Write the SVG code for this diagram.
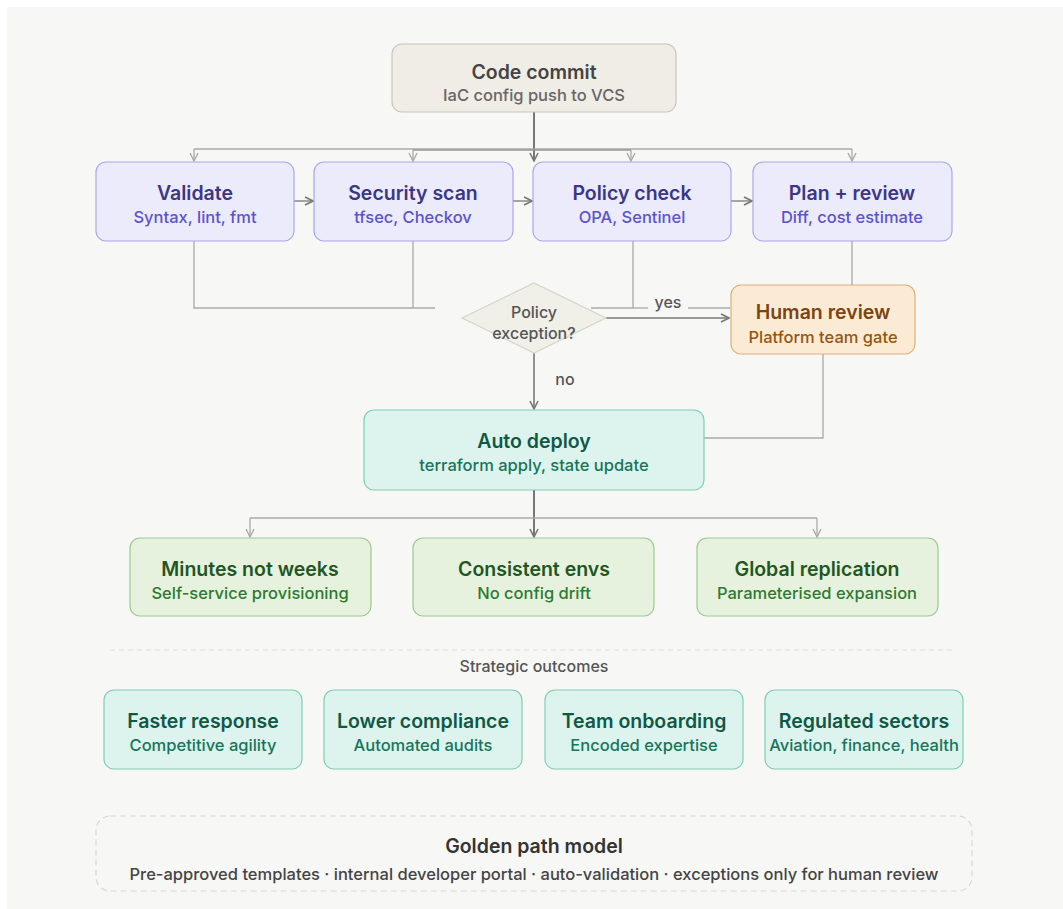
<svg xmlns="http://www.w3.org/2000/svg" width="1063" height="909" viewBox="0 0 1063 909">
<defs>
<marker id="ah" viewBox="0 0 10 10" refX="9" refY="5" markerWidth="10" markerHeight="10" markerUnits="userSpaceOnUse" orient="auto">
<path d="M1,1 L9,5 L1,9" fill="none" stroke="#777" stroke-width="1.6"/>
</marker>
<marker id="ahl" viewBox="0 0 10 10" refX="9" refY="5" markerWidth="10" markerHeight="10" markerUnits="userSpaceOnUse" orient="auto">
<path d="M1,1 L9,5 L1,9" fill="none" stroke="#aaa" stroke-width="1.4"/>
</marker>
</defs>
<style>
text{font-family:Inter,"Liberation Sans",sans-serif;text-anchor:middle}
.t{font-size:19.5px;font-weight:600}
.s{font-size:16.5px;font-weight:500}
.gray rect{fill:#f0ede6;stroke:#c9c5bb}
.gray .t{fill:#444}.gray .s{fill:#666}
.pur rect{fill:#ecebfb;stroke:#aba6ee}
.pur .t{fill:#3b3786}.pur .s{fill:#5b53cc}
.ora rect{fill:#fcebd4;stroke:#e0ae78}
.ora .t{fill:#7a4512}.ora .s{fill:#955510}
.teal rect{fill:#dcf4ed;stroke:#7fcdb5}
.teal .t{fill:#105846}.teal .s{fill:#17755b}
.grn rect{fill:#e6f2de;stroke:#9cc98d}
.grn .t{fill:#1f5622}.grn .s{fill:#2d7a2f}
rect{stroke-width:1.2}
.cl{fill:none;stroke:#aaa;stroke-width:1.3}
.cd{fill:none;stroke:#777;stroke-width:2}
.lbl{font-size:16px;fill:#555;font-weight:500}
</style>
<rect x="7" y="7" width="1056" height="902" fill="#f7f7f5"/>

<g id="connectors">
<path class="cd" d="M534,112 V161" marker-end="url(#ah)"/>
<path class="cl" d="M194,149 H852"/>
<path class="cl" d="M413,150 H631" style="stroke:#999"/>
<path class="cl" d="M194,149 V161" marker-end="url(#ahl)"/>
<path class="cl" d="M413,150 V161" marker-end="url(#ahl)"/>
<path class="cl" d="M631,150 V161" marker-end="url(#ahl)"/>
<path class="cl" d="M852,149 V161" marker-end="url(#ahl)"/>
<path class="cl" d="M294,201 H313" style="stroke:#888;stroke-width:1.5" marker-end="url(#ah)"/>
<path class="cl" d="M513,201 H532" style="stroke:#888;stroke-width:1.5" marker-end="url(#ah)"/>
<path class="cl" d="M731,201 H752" style="stroke:#888;stroke-width:1.5" marker-end="url(#ah)"/>
<path class="cl" d="M194,241 V308 H435"/>
<path class="cl" d="M413,241 V308"/>
<path class="cl" d="M633,241 V308 H591"/>
<path class="cl" d="M633,308 H648"/>
<path class="cl" d="M688,308 H730"/>
<path class="cl" d="M852,241 V285"/>
<path class="cd" d="M606,318 H729" style="stroke-width:1.6" marker-end="url(#ah)"/>
<path class="cd" d="M534,353 V409" style="stroke-width:1.6" marker-end="url(#ah)"/>
<path class="cl" d="M823,354 V438 H704"/>
<path class="cd" d="M534,490 V537" marker-end="url(#ah)"/>
<path class="cl" d="M250,518 H817"/>
<path class="cl" d="M250,518 V537" marker-end="url(#ahl)"/>
<path class="cl" d="M817,518 V537" marker-end="url(#ahl)"/>
<text class="lbl" x="668" y="308">yes</text>
<text class="lbl" x="565" y="385">no</text>
</g>

<g id="code-commit" class="gray">
<rect x="392" y="44" width="284" height="68" rx="10"/>
<text class="t" x="534" y="79">Code commit</text>
<text class="s" x="534" y="101">IaC config push to VCS</text>
</g>

<g id="validate" class="pur">
<rect x="96" y="162" width="198" height="79" rx="10"/>
<text class="t" x="195" y="200">Validate</text>
<text class="s" x="195" y="223">Syntax, lint, fmt</text>
</g>
<g id="security-scan" class="pur">
<rect x="314" y="162" width="199" height="79" rx="10"/>
<text class="t" x="413" y="200">Security scan</text>
<text class="s" x="413" y="223">tfsec, Checkov</text>
</g>
<g id="policy-check" class="pur">
<rect x="533" y="162" width="198" height="79" rx="10"/>
<text class="t" x="632" y="200">Policy check</text>
<text class="s" x="632" y="223">OPA, Sentinel</text>
</g>
<g id="plan-review" class="pur">
<rect x="753" y="162" width="199" height="79" rx="10"/>
<text class="t" x="852" y="200">Plan + review</text>
<text class="s" x="852" y="223">Diff, cost estimate</text>
</g>

<g id="policy-exception">
<polygon points="462,318 534,283 606,318 534,353" fill="#f0efe8" stroke="#d6d4ca" stroke-width="1.2"/>
<text class="lbl" x="534" y="318">Policy</text>
<text class="lbl" x="534" y="339">exception?</text>
</g>

<g id="human-review" class="ora">
<rect x="731" y="285" width="184" height="69" rx="10"/>
<text class="t" x="823" y="319">Human review</text>
<text class="s" x="823" y="343">Platform team gate</text>
</g>

<g id="auto-deploy" class="teal">
<rect x="364" y="410" width="340" height="80" rx="10"/>
<text class="t" x="534" y="448">Auto deploy</text>
<text class="s" x="534" y="471">terraform apply, state update</text>
</g>

<g id="minutes" class="grn">
<rect x="130" y="538" width="241" height="78" rx="10"/>
<text class="t" x="250" y="576">Minutes not weeks</text>
<text class="s" x="250" y="599">Self-service provisioning</text>
</g>
<g id="consistent" class="grn">
<rect x="413" y="538" width="241" height="78" rx="10"/>
<text class="t" x="534" y="576">Consistent envs</text>
<text class="s" x="534" y="599">No config drift</text>
</g>
<g id="global" class="grn">
<rect x="697" y="538" width="241" height="78" rx="10"/>
<text class="t" x="817" y="576">Global replication</text>
<text class="s" x="817" y="599">Parameterised expansion</text>
</g>

<line x1="110" y1="650" x2="955" y2="650" stroke="#e0e0dc" stroke-width="1.2" stroke-dasharray="5,4"/>
<text class="lbl" x="534" y="672">Strategic outcomes</text>

<g id="faster" class="teal">
<rect x="104" y="690" width="198" height="79" rx="10"/>
<text class="t" x="203" y="728">Faster response</text>
<text class="s" x="203" y="751">Competitive agility</text>
</g>
<g id="lower" class="teal">
<rect x="324" y="690" width="198" height="79" rx="10"/>
<text class="t" x="423" y="728">Lower compliance</text>
<text class="s" x="423" y="751">Automated audits</text>
</g>
<g id="team" class="teal">
<rect x="545" y="690" width="198" height="79" rx="10"/>
<text class="t" x="644" y="728">Team onboarding</text>
<text class="s" x="644" y="751">Encoded expertise</text>
</g>
<g id="regulated" class="teal">
<rect x="765" y="690" width="198" height="79" rx="10"/>
<text class="t" x="864" y="728">Regulated sectors</text>
<text class="s" x="864" y="751">Aviation, finance, health</text>
</g>

<g id="golden-path">
<rect x="96" y="816" width="876" height="75" rx="14" fill="none" stroke="#d8d8d3" stroke-width="1.3" stroke-dasharray="6,4"/>
<text x="534" y="853" style="font-size:19.5px;font-weight:600;fill:#333">Golden path model</text>
<text x="534" y="880" style="font-size:16.5px;font-weight:500;fill:#444">Pre-approved templates · internal developer portal · auto-validation · exceptions only for human review</text>
</g>
</svg>
